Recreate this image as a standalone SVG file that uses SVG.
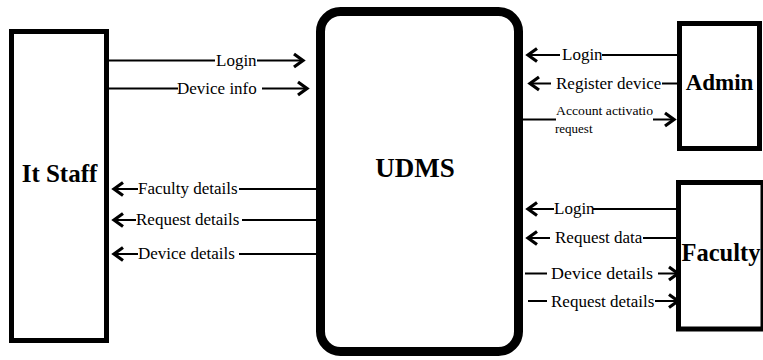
<svg xmlns="http://www.w3.org/2000/svg" width="763" height="360" viewBox="0 0 763 360">
  <style>
    .box { fill: #ffffff; stroke: #000000; }
    .title { font-family: "Liberation Serif", "Times New Roman", serif; font-weight: bold; fill: #000000; text-anchor: middle; }
    .flow { stroke: #000000; stroke-width: 2; fill: none; }
    .arrow { stroke: #000000; stroke-width: 2; fill: none; marker-end: url(#chev); }
    .lbl { font-family: "Liberation Serif", "Times New Roman", serif; font-size: 17px; fill: #000000; }
    .small { font-family: "Liberation Serif", "Times New Roman", serif; font-size: 13px; fill: #000000; }
  </style>
  <defs>
    <!-- open chevron arrowhead, tip at the line end -->
    <marker id="chev" markerUnits="userSpaceOnUse" viewBox="-12 -8 14 16" refX="0" refY="0" markerWidth="14" markerHeight="16" orient="auto" overflow="visible">
      <path d="M-9,-6.5 L0,0 L-9,6.5" fill="none" stroke="#000000" stroke-width="3.2" stroke-linejoin="miter"/>
    </marker>
  </defs>

  <rect width="763" height="360" fill="#ffffff"/>

  <!-- external entity: It Staff -->
  <g id="it-staff">
    <rect class="box" x="11.5" y="31.5" width="95" height="309" stroke-width="5"/>
    <text class="title" x="59.5" y="181.5" font-size="25">It Staff</text>
  </g>

  <!-- central process -->
  <g id="udms">
    <rect class="box" x="320.5" y="11.5" width="198" height="340" rx="20" ry="20" stroke-width="9"/>
    <text class="title" x="415" y="177" font-size="27">UDMS</text>
  </g>

  <!-- external entity: Admin -->
  <g id="admin">
    <rect class="box" x="679.5" y="23.5" width="80" height="125" stroke-width="5"/>
    <text class="title" x="719.5" y="90" font-size="23">Admin</text>
  </g>

  <!-- external entity: Faculty -->
  <g id="faculty">
    <rect class="box" x="678.5" y="182.5" width="84.5" height="146.5" stroke-width="5"/>
    <text class="title" x="721" y="261" font-size="24.5">Faculty</text>
  </g>

  <!-- data flows -->
  <g id="connectors">
    <!-- It Staff -> UDMS -->
    <line class="flow" x1="109" y1="60.5" x2="215" y2="60.5"/>
    <text class="lbl" x="216" y="66">Login</text>
    <line class="arrow" x1="257" y1="60.5" x2="303" y2="60.5"/>

    <line class="flow" x1="109" y1="88.5" x2="178" y2="88.5"/>
    <text class="lbl" x="177" y="94">Device info</text>
    <line class="arrow" x1="262" y1="88.5" x2="307" y2="88.5"/>

    <!-- UDMS -> It Staff -->
    <line class="flow" x1="316" y1="189" x2="239" y2="189"/>
    <text class="lbl" x="138" y="194">Faculty details</text>
    <line class="arrow" x1="138" y1="189" x2="114" y2="189"/>

    <line class="flow" x1="316" y1="220" x2="242" y2="220"/>
    <text class="lbl" x="136" y="225">Request details</text>
    <line class="arrow" x1="136" y1="220" x2="114" y2="220"/>

    <line class="flow" x1="316" y1="254" x2="239" y2="254"/>
    <text class="lbl" x="138" y="259">Device details</text>
    <line class="arrow" x1="138" y1="254" x2="114" y2="254"/>

    <!-- Admin <-> UDMS -->
    <line class="flow" x1="677" y1="55" x2="602" y2="55"/>
    <text class="lbl" x="562" y="60">Login</text>
    <line class="arrow" x1="560" y1="55" x2="528" y2="55"/>

    <line class="flow" x1="677" y1="83.5" x2="662" y2="83.5"/>
    <text class="lbl" x="556" y="88.5">Register device</text>
    <line class="arrow" x1="551" y1="83.5" x2="530" y2="83.5"/>

    <line class="flow" x1="523" y1="119.5" x2="556" y2="119.5"/>
    <text class="small" x="556" y="115" textLength="97" lengthAdjust="spacingAndGlyphs">Account activatio</text>
    <text class="small" x="555" y="133">request</text>
    <line class="arrow" x1="653" y1="119.5" x2="674" y2="119.5"/>

    <!-- Faculty <-> UDMS -->
    <line class="flow" x1="676" y1="209" x2="593" y2="209"/>
    <text class="lbl" x="554" y="213.5">Login</text>
    <line class="arrow" x1="554" y1="209" x2="528" y2="209"/>

    <line class="flow" x1="676" y1="238" x2="643" y2="238"/>
    <text class="lbl" x="555" y="242.5">Request data</text>
    <line class="arrow" x1="550" y1="238" x2="528" y2="238"/>

    <line class="flow" x1="525" y1="273.5" x2="547" y2="273.5"/>
    <text class="lbl" x="551" y="278.5" textLength="102" lengthAdjust="spacingAndGlyphs">Device details</text>
    <line class="arrow" x1="658" y1="273.5" x2="678" y2="273.5"/>

    <line class="flow" x1="528" y1="301" x2="547" y2="301"/>
    <text class="lbl" x="551" y="306.5">Request details</text>
    <line class="arrow" x1="655" y1="301" x2="678" y2="301"/>
  </g>
</svg>
